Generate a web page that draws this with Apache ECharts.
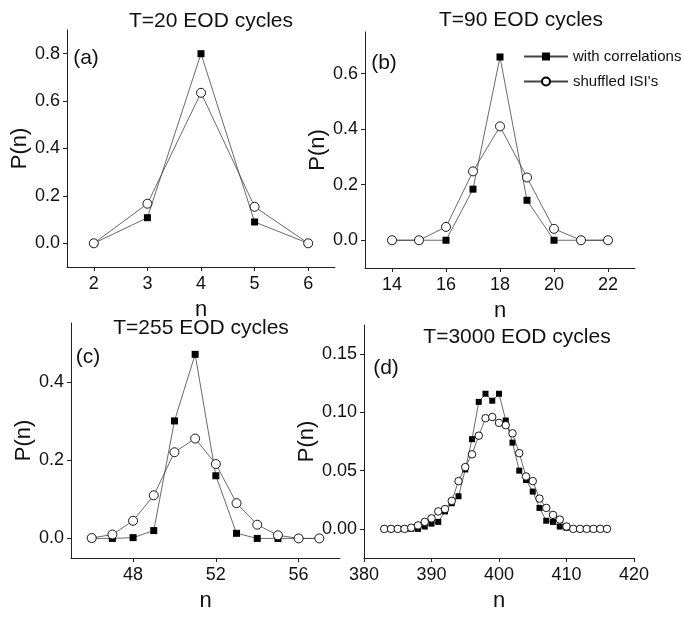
<!DOCTYPE html>
<html>
<head>
<meta charset="utf-8">
<script src="https://cdn.jsdelivr.net/npm/echarts@6/dist/echarts.min.js"></script>
<style>
  html, body { margin: 0; padding: 0; background: #fff; }
  #chart { width: 684px; height: 618px; }
</style>
</head>
<body>
<div id="chart"></div>
<script>
// panel (a) T=20
const nA = [2, 3, 4, 5, 6]
const corrA = [0, 0.108, 0.80, 0.09, 0]
const shufA = [0, 0.167, 0.635, 0.154, 0]

// panel (b) T=90
const nB = [14, 15, 16, 17, 18, 19, 20, 21, 22]
const corrB = [0, 0, 0, 0.184, 0.66, 0.144, 0, 0, 0]
const shufB = [0, 0, 0.048, 0.248, 0.41, 0.226, 0.041, 0, 0]

// panel (c) T=255
const nC = [46, 47, 48, 49, 50, 51, 52, 53, 54, 55, 56, 57]
const corrC = [0, 0, 0.002, 0.02, 0.30, 0.47, 0.16, 0.013, 0, 0, 0, 0]
const shufC = [0.001, 0.01, 0.045, 0.11, 0.22, 0.255, 0.19, 0.09, 0.035, 0.008, 0, 0]

// panel (d) T=3000
const nD = [383, 384, 385, 386, 387, 388, 389, 390, 391, 392, 393, 394, 395, 396, 397, 398, 399,
  400, 401, 402, 403, 404, 405, 406, 407, 408, 409, 410, 411, 412, 413, 414, 415, 416]
const corrD = [0, 0, 0, 0, 0, 0, 0.002, 0.0045, 0.006, 0.015, 0.022, 0.028, 0.051, 0.077, 0.109, 0.116, 0.110,
  0.116, 0.093, 0.074, 0.050, 0.042, 0.032, 0.018, 0.007, 0.006, 0.002, 0.001, 0, 0, 0, 0, 0, 0]
const shufD = [0, 0, 0, 0, 0.001, 0.003, 0.006, 0.009, 0.015, 0.017, 0.024, 0.041, 0.053, 0.064, 0.080, 0.095, 0.096,
  0.091, 0.089, 0.082, 0.065, 0.045, 0.041, 0.026, 0.018, 0.012, 0.008, 0.002, 0, 0, 0, 0, 0, 0]

// tick labels
const xTicksA = [2, 3, 4, 5, 6]
const yTicksA = [0, 0.2, 0.4, 0.6, 0.8]
const xTicksB = [14, 16, 18, 20, 22]
const yTicksB = [0, 0.2, 0.4, 0.6]
const xTicksC = [48, 52, 56]
const yTicksC = [0, 0.2, 0.4]
const xTicksD = [380, 390, 400, 410, 420]
const yTicksD = [0, 0.05, 0.1, 0.15]

const titles = ['T=20 EOD cycles', 'T=90 EOD cycles', 'T=255 EOD cycles', 'T=3000 EOD cycles']
const panelTags = ['(a)', '(b)', '(c)', '(d)']
const seriesNames = ['with correlations', "shuffled ISI's"]

const FONT = '"Liberation Sans", Arial, sans-serif'
const INK = '#111'

const grids = [
  { left: 67, top: 30, width: 268, height: 237 },
  { left: 365, top: 32, width: 270, height: 236 },
  { left: 71, top: 323, width: 269, height: 235 },
  { left: 364, top: 325, width: 270, height: 233 },
]

function xAxisFor(idx, min, max, ticks) {
  return {
    type: 'value',
    gridIndex: idx,
    min: min,
    max: max,
    name: 'n',
    nameLocation: 'middle',
    nameGap: 32,
    nameTextStyle: { fontSize: 22, color: INK, fontFamily: FONT },
    axisLine: { onZero: false, lineStyle: { color: '#222', width: 1 } },
    axisTick: { customValues: ticks, length: 4, lineStyle: { color: '#222' } },
    axisLabel: { customValues: ticks, fontSize: 18, color: INK, margin: 8, fontFamily: FONT },
    splitLine: { show: false },
  }
}

function yAxisFor(idx, min, max, ticks, digits, gap) {
  return {
    type: 'value',
    gridIndex: idx,
    min: min,
    max: max,
    name: 'P(n)',
    nameLocation: 'middle',
    nameRotate: 90,
    nameGap: gap,
    nameTextStyle: { fontSize: 22, color: INK, fontFamily: FONT },
    axisLine: { show: true, onZero: false, lineStyle: { color: '#222', width: 1 } },
    axisTick: { show: true, customValues: ticks, length: 4, lineStyle: { color: '#222' } },
    axisLabel: {
      customValues: ticks,
      fontSize: 18,
      color: INK,
      margin: 7,
      fontFamily: FONT,
      formatter: (v) => v.toFixed(digits),
    },
    splitLine: { show: false },
  }
}

function pairs(xs, ys) {
  return xs.map((x, i) => [x, ys[i]])
}

function seriesFor(idx, xs, corr, shuf, sq, ci) {
  return [
    {
      name: seriesNames[0],
      type: 'line',
      xAxisIndex: idx,
      yAxisIndex: idx,
      data: pairs(xs, corr),
      symbol: 'rect',
      symbolSize: sq,
      itemStyle: { color: '#000' },
      lineStyle: { color: '#444', width: 0.8 },
      z: 2,
    },
    {
      name: seriesNames[1],
      type: 'line',
      xAxisIndex: idx,
      yAxisIndex: idx,
      data: pairs(xs, shuf),
      symbol: 'circle',
      symbolSize: ci,
      itemStyle: { color: '#fff', borderColor: '#000', borderWidth: 0.9 },
      lineStyle: { color: '#444', width: 0.8 },
      z: 3,
    },
  ]
}

function textAt(x, y, text, size) {
  return {
    type: 'text',
    x: x,
    y: y,
    style: {
      text: text,
      fontSize: size,
      fontFamily: FONT,
      fill: INK,
      align: 'center',
      verticalAlign: 'middle',
    },
  }
}

const chart = echarts.init(document.getElementById('chart'))
const option = {
  animation: false,
  backgroundColor: '#fff',
  textStyle: { fontFamily: FONT },
  grid: grids,
  xAxis: [
    xAxisFor(0, 1.5, 6.5, xTicksA),
    xAxisFor(1, 13, 23, xTicksB),
    xAxisFor(2, 45, 58, xTicksC),
    xAxisFor(3, 380, 420, xTicksD),
  ],
  yAxis: [
    yAxisFor(0, -0.1, 0.9, yTicksA, 1, 25),
    yAxisFor(1, -0.1, 0.75, yTicksB, 1, 36),
    yAxisFor(2, -0.05, 0.55, yTicksC, 1, 34),
    yAxisFor(3, -0.025, 0.175, yTicksD, 2, 42),
  ],
  legend: {
    data: seriesNames,
    orient: 'vertical',
    left: 518,
    top: 44,
    itemWidth: 44,
    itemHeight: 10,
    itemGap: 10,
    selectedMode: false,
    textStyle: { fontSize: 15, color: INK, fontFamily: FONT },
  },
  graphic: [
    textAt(211, 21, titles[0], 21),
    textAt(521, 20, titles[1], 21),
    textAt(201, 328, titles[2], 21),
    textAt(517, 337, titles[3], 21),
    textAt(86, 58, panelTags[0], 21),
    textAt(384, 63, panelTags[1], 21),
    textAt(88, 357, panelTags[2], 21),
    textAt(386, 368, panelTags[3], 21),
  ],
  series: [
    ...seriesFor(0, nA, corrA, shufA, 7, 9),
    ...seriesFor(1, nB, corrB, shufB, 7, 9),
    ...seriesFor(2, nC, corrC, shufC, 7, 9),
    ...seriesFor(3, nD, corrD, shufD, 6, 7.5),
  ],
}
chart.setOption(option)
</script>
</body>
</html>
